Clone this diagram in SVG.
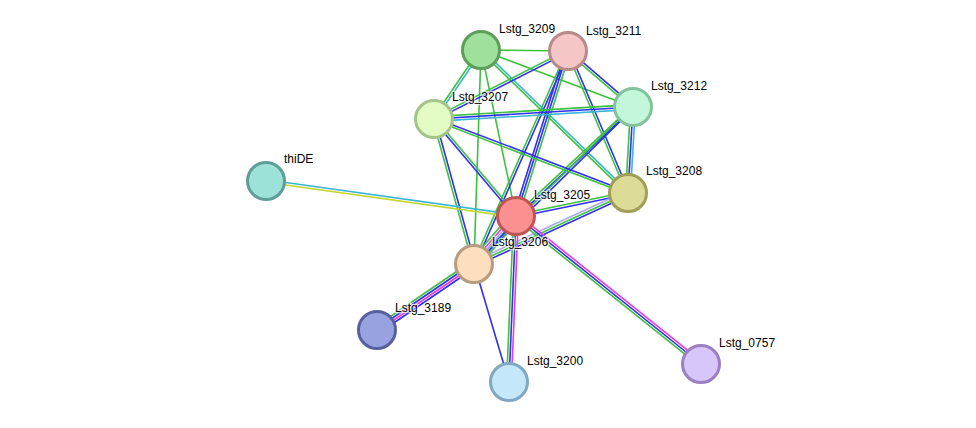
<svg xmlns="http://www.w3.org/2000/svg" width="976" height="428" viewBox="0 0 976 428">
<style>
line{stroke-width:1.6;fill:none}
.g{stroke:#3dc23d}.b{stroke:#3030f2}.c{stroke:#3cb4d6}.m{stroke:#e040e0}.y{stroke:#c4d62c}.l{stroke:#a8a8f6}
circle{stroke-width:3}
text{font-family:"Liberation Sans",Arial,sans-serif;font-size:12px;fill:#000;paint-order:stroke;stroke:#fff;stroke-width:2.5px;stroke-opacity:0.7}
</style>
<rect width="976" height="428" fill="#fff"/>
<g id="connectors">
<line class="g" x1="481" y1="50" x2="568" y2="51"/>
<line class="g" x1="480" y1="49.3" x2="433" y2="118.3"/><line class="c" x1="482" y1="50.7" x2="435" y2="119.7"/>
<line class="g" x1="481" y1="50" x2="633" y2="107"/>
<line class="g" x1="480.2" y1="50.9" x2="627.2" y2="193.9"/><line class="c" x1="481.8" y1="49.1" x2="628.8" y2="192.1"/>
<line class="g" x1="481" y1="50" x2="474" y2="264"/>
<line class="g" x1="481" y1="50" x2="516" y2="216"/>
<line class="g" x1="567.5" y1="49.9" x2="433.5" y2="117.9"/><line class="b" x1="568.5" y1="52.1" x2="434.5" y2="120.1"/>
<line class="g" x1="567.2" y1="51.9" x2="632.2" y2="107.9"/><line class="b" x1="568.8" y1="50.1" x2="633.8" y2="106.1"/>
<line class="g" x1="566.9" y1="51.5" x2="626.9" y2="193.5"/><line class="b" x1="569.1" y1="50.5" x2="629.1" y2="192.5"/>
<line class="g" x1="570.3" y1="51.7" x2="518.3" y2="216.7"/><line class="b" x1="568" y1="51" x2="516" y2="216"/><line class="b" x1="565.7" y1="50.3" x2="513.7" y2="215.3"/>
<line class="g" x1="566.9" y1="50.5" x2="472.9" y2="263.5"/><line class="b" x1="569.1" y1="51.5" x2="475.1" y2="264.5"/>
<line class="g" x1="632.9" y1="104.6" x2="433.9" y2="116.6"/><line class="b" x1="633" y1="107" x2="434" y2="119"/><line class="c" x1="633.1" y1="109.4" x2="434.1" y2="121.4"/>
<line class="g" x1="630.6" y1="106.9" x2="625.6" y2="192.9"/><line class="b" x1="633" y1="107" x2="628" y2="193"/><line class="c" x1="635.4" y1="107.1" x2="630.4" y2="193.1"/>
<line class="g" x1="632.2" y1="106.1" x2="515.2" y2="215.1"/><line class="b" x1="633.8" y1="107.9" x2="516.8" y2="216.9"/>
<line class="g" x1="632.2" y1="106.2" x2="473.2" y2="263.2"/><line class="b" x1="633.8" y1="107.9" x2="474.8" y2="264.9"/>
<line class="g" x1="433.6" y1="120.1" x2="627.6" y2="194.1"/><line class="b" x1="434.4" y1="117.9" x2="628.4" y2="191.9"/>
<line class="b" x1="433.1" y1="119.8" x2="515.1" y2="216.8"/><line class="g" x1="434.9" y1="118.2" x2="516.9" y2="215.2"/>
<line class="g" x1="432.8" y1="119.3" x2="472.8" y2="264.3"/><line class="b" x1="435.2" y1="118.7" x2="475.2" y2="263.7"/>
<line class="c" x1="266.2" y1="179.8" x2="516.2" y2="214.8"/><line class="y" x1="265.8" y1="182.2" x2="515.8" y2="217.2"/>
<line class="g" x1="627.8" y1="191.8" x2="515.8" y2="214.8"/><line class="b" x1="628.2" y1="194.2" x2="516.2" y2="217.2"/>
<line class="l" x1="627" y1="190.8" x2="473" y2="261.8"/><line class="g" x1="628" y1="193" x2="474" y2="264"/><line class="b" x1="629" y1="195.2" x2="475" y2="266.2"/>
<line class="g" x1="519.6" y1="219.2" x2="477.6" y2="267.2"/><line class="b" x1="517.8" y1="217.6" x2="475.8" y2="265.6"/><line class="l" x1="516" y1="216" x2="474" y2="264"/><line class="m" x1="514.2" y1="214.4" x2="472.2" y2="262.4"/><line class="g" x1="512.4" y1="212.8" x2="470.4" y2="260.8"/>
<line class="g" x1="513.6" y1="215.9" x2="506.6" y2="381.9"/><line class="b" x1="516" y1="216" x2="509" y2="382"/><line class="m" x1="518.4" y1="216.1" x2="511.4" y2="382.1"/>
<line class="g" x1="514.5" y1="217.9" x2="699.5" y2="365.9"/><line class="b" x1="516" y1="216" x2="701" y2="364"/><line class="m" x1="517.5" y1="214.1" x2="702.5" y2="362.1"/>
<line class="g" x1="472" y1="261" x2="375" y2="327"/><line class="b" x1="473.3" y1="263" x2="376.3" y2="329"/><line class="m" x1="474.7" y1="265" x2="377.7" y2="331"/><line class="b" x1="476" y1="267" x2="379" y2="333"/>
<line class="b" x1="474" y1="264" x2="509" y2="382"/>
</g>
<g id="Lstg_3209"><circle cx="481" cy="50" r="18.5" fill="#9fe09a" stroke="#5e9e5a"/><text x="499" y="33">Lstg_3209</text></g>
<g id="Lstg_3211"><circle cx="568" cy="51" r="18.5" fill="#f6c6c6" stroke="#b88a8a"/><text x="586" y="35">Lstg_3211</text></g>
<g id="Lstg_3212"><circle cx="633" cy="107" r="18.5" fill="#c2f7da" stroke="#84c29c"/><text x="651" y="90">Lstg_3212</text></g>
<g id="Lstg_3207"><circle cx="434" cy="119" r="18.5" fill="#e2fcc4" stroke="#a4c48a"/><text x="452" y="101">Lstg_3207</text></g>
<g id="thiDE"><circle cx="266" cy="181" r="18.5" fill="#9de2d8" stroke="#5e9e96"/><text x="284" y="163">thiDE</text></g>
<g id="Lstg_3208"><circle cx="628" cy="193" r="18.5" fill="#dcdc96" stroke="#a09e58"/><text x="646" y="175">Lstg_3208</text></g>
<g id="Lstg_3205"><circle cx="516" cy="216" r="18.5" fill="#fb9090" stroke="#c05454"/><text x="534" y="199">Lstg_3205</text></g>
<g id="Lstg_3206"><circle cx="474" cy="264" r="18.5" fill="#fddfc0" stroke="#b89c80"/><text x="492" y="246">Lstg_3206</text></g>
<g id="Lstg_3189"><circle cx="377" cy="330" r="18.5" fill="#98a2e0" stroke="#5860a0"/><text x="395" y="312">Lstg_3189</text></g>
<g id="Lstg_3200"><circle cx="509" cy="382" r="18.5" fill="#c4e8fa" stroke="#80a8c0"/><text x="527" y="365">Lstg_3200</text></g>
<g id="Lstg_0757"><circle cx="701" cy="364" r="18.5" fill="#d6c6fa" stroke="#9a80c0"/><text x="719" y="347">Lstg_0757</text></g>
</svg>
